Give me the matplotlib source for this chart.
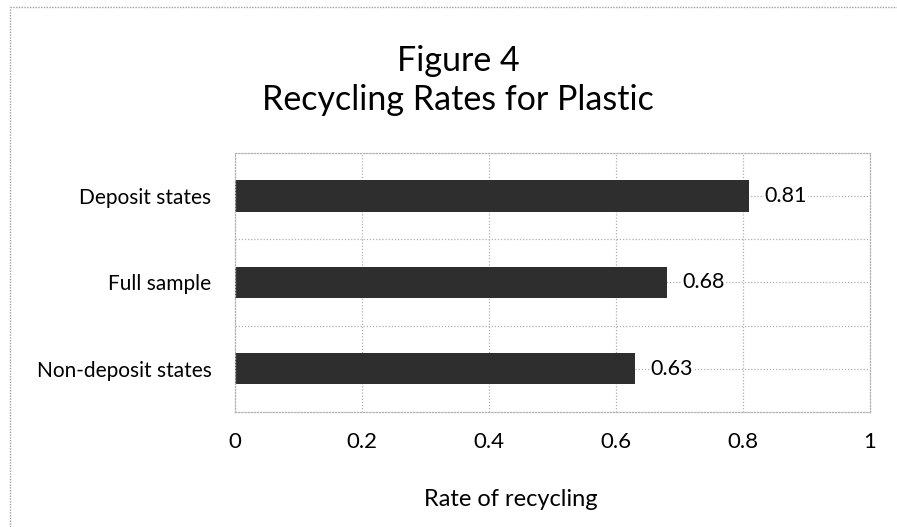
import numpy as np
import matplotlib.pyplot as plt
import matplotlib as mpl

mpl.rcParams['font.family'] = ['Lato', 'DejaVu Sans']

categories = ['Non-deposit states', 'Full sample', 'Deposit states']
rates = [0.63, 0.68, 0.81]
xticks = [0, 0.2, 0.4, 0.6, 0.8, 1]
xtick_labels = ['0', '0.2', '0.4', '0.6', '0.8', '1']

fig = plt.figure(figsize=(8.97, 5.27), dpi=100)
ax = fig.add_axes([0.262, 0.218, 0.708, 0.492])

grid_kw = dict(color='#b0b0b0', linestyle=(0, (1, 1.5)), linewidth=0.9, zorder=0)
ypos = np.arange(len(categories))
for y in ypos:
    ax.axhline(y, **grid_kw)
for y in ypos[:-1] + 0.5:
    ax.axhline(y, **grid_kw)
for x in xticks[1:-1]:
    ax.axvline(x, **grid_kw)

ax.barh(ypos, rates, height=0.36, color='#2e2e2e', zorder=2)
for y, v in zip(ypos, rates):
    ax.text(v + 0.024, y, '%.2f' % v, va='center', ha='left', fontsize=15.5,
            zorder=3, bbox=dict(facecolor='white', edgecolor='none', pad=0.5))

ax.set_xlim(0, 1)
ax.set_ylim(-0.5, 2.5)
ax.set_xticks(xticks)
ax.set_xticklabels(xtick_labels, fontsize=16)
ax.set_yticks(ypos)
ax.set_yticklabels(categories, fontsize=15)
ax.tick_params(length=0, pad=17, axis='y')
ax.tick_params(length=0, pad=14, axis='x')
for s in ax.spines.values():
    s.set_color('#b0b0b0')
    s.set_linestyle((0, (1, 1.5)))
    s.set_linewidth(0.9)

fig.text(0.511, 0.885, 'Figure 4', ha='center', va='center', fontsize=24.5)
fig.text(0.511, 0.81, 'Recycling Rates for Plastic', ha='center', va='center', fontsize=24.5)
fig.text(0.57, 0.052, 'Rate of recycling', ha='center', va='center', fontsize=17)

# dotted frame at top/left of the page
fig.add_artist(plt.Line2D([0.011, 1], [0.987, 0.987], transform=fig.transFigure,
                          color='#a0a0a0', linestyle=(0, (1, 1)), linewidth=1))
fig.add_artist(plt.Line2D([0.011, 0.011], [0, 0.987], transform=fig.transFigure,
                          color='#a0a0a0', linestyle=(0, (1, 1)), linewidth=1))

plt.savefig('out.png', dpi=100)
